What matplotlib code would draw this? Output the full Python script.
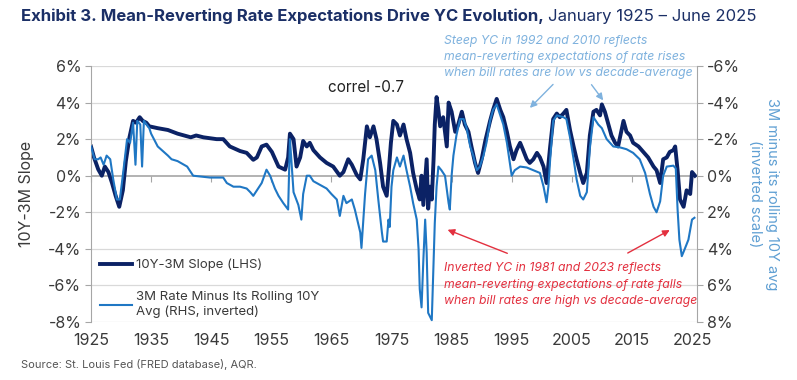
import matplotlib
matplotlib.use("Agg")
import matplotlib.pyplot as plt
import numpy as np

plt.rcParams['font.family'] = ['Inter', 'DejaVu Sans']

# ---- data ----
slope_years = [1925.0, 1925.5, 1926.2, 1926.8, 1927.3, 1927.9, 1928.5, 1929.1, 1929.7, 1930.3,
               1930.8, 1931.4, 1932.0, 1932.5, 1933.1, 1933.6, 1934.2, 1934.7, 1936.1, 1937.8,
               1939.4, 1940.5, 1941.6, 1942.5, 1943.7, 1945.9, 1947.0, 1948.1, 1949.8, 1950.9,
               1952.0, 1952.6, 1953.4, 1954.2, 1955.1, 1956.2, 1957.3, 1957.8, 1958.1, 1958.7,
               1959.2, 1959.8, 1960.3, 1960.9, 1961.4, 1962.0, 1963.1, 1964.2, 1965.3, 1966.4,
               1967.0, 1967.8, 1968.4, 1969.2, 1969.8, 1970.3, 1970.9, 1971.4, 1972.0, 1972.5,
               1973.1, 1973.6, 1974.2, 1974.6, 1974.9, 1975.3, 1975.9, 1976.4, 1977.0, 1977.5,
               1978.1, 1978.6, 1979.2, 1979.7, 1980.0, 1980.3, 1980.85, 1981.1, 1981.4, 1981.7,
               1982.0, 1982.2, 1982.5, 1982.8, 1983.1, 1983.6, 1984.2, 1984.5, 1985.0, 1985.6,
               1986.1, 1986.7, 1987.2, 1987.8, 1988.3, 1988.9, 1989.4, 1990.0, 1990.6, 1991.4,
               1991.9, 1992.5, 1993.1, 1993.6, 1994.2, 1994.7, 1995.3, 1995.8, 1996.4, 1996.9,
               1997.5, 1998.0, 1998.6, 1999.2, 1999.7, 2000.3, 2000.8, 2001.4, 2001.9, 2002.5,
               2003.0, 2003.6, 2004.1, 2004.7, 2005.3, 2005.8, 2006.4, 2006.9, 2007.5, 2008.0,
               2008.6, 2009.1, 2009.7, 2010.0, 2010.5, 2011.1, 2011.6, 2012.2, 2012.7, 2013.6,
               2014.1, 2014.7, 2015.2, 2016.1, 2016.9, 2017.7, 2018.6, 2019.1, 2019.7, 2020.2,
               2020.8, 2021.3, 2021.9, 2022.2, 2022.6, 2023.0, 2023.6, 2024.1, 2024.7, 2025.0,
               2025.5]
slope_vals = [1.6, 1.0, 0.35, 0.0, 0.5, 0.2, -0.4, -1.1, -1.7, -0.8,
              0.8, 2.1, 3.0, 2.9, 3.2, 3.0, 2.9, 2.7, 2.6, 2.5,
              2.3, 2.2, 2.1, 2.2, 2.1, 2.0, 2.0, 1.6, 1.35, 1.25,
              0.87, 1.0, 1.6, 1.7, 1.3, 0.5, 0.33, 1.0, 2.3, 2.0,
              0.5, 1.0, 1.9, 1.6, 1.8, 1.4, 1.0, 0.7, 0.5, 0.0,
              0.2, 0.9, 0.6, 0.05, -0.2, 0.9, 2.7, 2.1, 2.7, 2.0,
              0.7, -0.6, -1.1, 0.5, 1.8, 3.0, 2.8, 2.2, 2.8, 2.0,
              1.25, 0.15, -0.75, -1.3, 0.0, -1.6, 0.9, -1.8, -0.6, -1.3,
              0.9, 2.8, 4.3, 3.6, 2.7, 3.2, 1.6, 4.0, 3.5, 2.4,
              2.8, 3.5, 2.8, 2.4, 1.6, 0.7, 0.15, 0.9, 1.9, 3.0,
              3.6, 4.2, 3.6, 3.2, 2.4, 1.6, 0.9, 1.4, 1.8, 1.4,
              0.9, 0.7, 0.9, 1.25, 1.0, 0.5, -0.4, 1.6, 3.1, 3.4,
              3.2, 3.4, 3.6, 2.5, 1.6, 0.9, 0.15, -0.4, 0.15, 2.2,
              3.5, 3.6, 3.3, 3.9, 3.5, 2.8, 2.2, 1.8, 1.6, 3.0,
              2.4, 2.2, 1.8, 1.6, 1.3, 1.0, 0.5, 0.3, -0.4, 0.9,
              1.0, 1.3, 1.4, 1.6, 0.3, -1.3, -1.7, -0.8, -1.0, 0.2,
              0.0]

gap_years = [1925.0, 1925.6, 1926.2, 1926.6, 1927.1, 1927.6, 1928.2, 1928.7, 1929.3, 1929.8,
             1930.4, 1931.0, 1931.5, 1932.0, 1932.4, 1932.7, 1933.2, 1933.5, 1933.8, 1934.7,
             1935.0, 1936.1, 1937.8, 1938.4, 1939.4, 1941.0, 1942.0, 1944.8, 1947.0, 1947.6,
             1948.7, 1949.8, 1950.9, 1951.5, 1952.0, 1952.6, 1953.4, 1954.2, 1954.8, 1955.6,
             1956.2, 1957.0, 1957.8, 1958.1, 1958.7, 1959.5, 1960.0, 1960.3, 1960.9, 1961.4,
             1962.0, 1963.1, 1964.2, 1965.0, 1965.9, 1966.4, 1967.0, 1967.5, 1968.4, 1968.9,
             1969.8, 1970.0, 1970.6, 1971.1, 1971.7, 1972.3, 1972.8, 1973.4, 1973.6, 1974.2,
             1974.5, 1974.7, 1975.0, 1975.3, 1975.9, 1976.4, 1977.0, 1977.5, 1978.1, 1978.6,
             1979.2, 1979.5, 1979.7, 1980.0, 1980.3, 1980.6, 1980.85, 1981.1, 1981.4, 1981.7,
             1982.0, 1982.2, 1982.5, 1982.8, 1983.3, 1983.9, 1984.5, 1984.7, 1985.0, 1985.3,
             1985.8, 1986.4, 1987.0, 1987.5, 1988.1, 1988.6, 1989.2, 1989.7, 1990.3, 1990.8,
             1991.4, 1991.9, 1992.5, 1993.1, 1993.6, 1994.2, 1994.7, 1995.0, 1995.5, 1996.4,
             1997.5, 1998.6, 1999.7, 2000.3, 2000.8, 2001.1, 2001.4, 2001.9, 2002.5, 2003.6,
             2004.1, 2004.7, 2005.3, 2005.8, 2006.4, 2006.9, 2007.5, 2008.0, 2008.6, 2009.4,
             2010.0, 2010.8, 2011.9, 2013.0, 2014.1, 2015.2, 2016.3, 2017.2, 2018.0, 2018.6,
             2019.1, 2019.7, 2020.2, 2020.8, 2021.9, 2022.3, 2022.6, 2022.9, 2023.3, 2023.8,
             2024.4, 2025.0, 2025.4]
# 3M rate minus its rolling 10Y average (plotted on the inverted right axis)
gap_vals = [-1.6, -0.9, -0.9, -1.0, -0.6, -1.1, -0.9, 0.2, 1.3, 1.3,
            -0.3, -2.0, -1.8, -2.9, -0.6, -3.0, -2.8, -0.5, -3.0, -2.6,
            -2.3, -1.6, -1.1, -0.9, -0.8, -0.5, 0.0, 0.1, 0.1, 0.4,
            0.6, 0.6, 0.7, 0.9, 1.1, 0.8, 0.4, -0.33, 0.0, 0.7,
            1.1, 1.5, 1.85, -2.0, 0.9, 1.6, 2.4, 1.0, 0.0, 0.0,
            0.3, 0.5, 0.7, 1.0, 1.3, 2.2, 1.1, 1.5, 1.3, 1.85,
            3.1, 3.95, 1.0, -0.9, -1.1, -0.3, 1.3, 3.1, 3.6, 3.6,
            2.4, 2.8, 0.6, -0.3, -1.0, -0.5, -1.1, -0.3, 0.6, 1.5,
            2.4, 4.0, 6.2, 7.2, 4.6, 2.4, 4.2, 7.5, 7.7, 7.9,
            4.8, 2.6, 0.6, -0.5, -0.3, 0.0, 1.5, 1.85, 0.0, -1.1,
            -2.2, -3.1, -3.1, -2.6, -1.6, -1.1, -0.3, -0.5, -1.1, -1.8,
            -3.0, -3.6, -3.9, -3.3, -2.8, -1.8, -0.7, 0.0, -0.3, -0.5,
            -0.45, -0.3, -0.15, 0.6, 1.45, 0.6, -0.9, -3.0, -3.3, -3.2,
            -3.1, -2.1, -0.9, 0.2, 1.1, 1.3, 0.9, -1.5, -3.2, -2.8,
            -2.6, -2.0, -1.6, -1.55, -1.45, -1.25, -0.9, -0.15, 1.0, 1.7,
            2.0, 1.4, 0.0, -0.5, -0.55, -0.4, 1.85, 3.5, 4.4, 4.0,
            3.5, 2.4, 2.3]

left_ticks = [-8, -6, -4, -2, 0, 2, 4, 6]
right_ticks = [-6, -4, -2, 0, 2, 4, 6, 8]
year_ticks = [1925, 1935, 1945, 1955, 1965, 1975, 1985, 1995, 2005, 2015, 2025]

# ---- styling ----
NAVY = '#0b2265'
BLUE = '#1f77c4'
LIGHT = '#7fb2de'
RED = '#e3303f'
TXT = '#3a3a3a'
GRID = '#d9d9d9'

fig = plt.figure(figsize=(7.97, 3.8), dpi=100)
ax = fig.add_axes([91/797, 1-322/380, 606/797, 256/380])
ax2 = ax.twinx()

ax.plot(slope_years, slope_vals, color=NAVY, lw=2.8, label='10Y-3M Slope (LHS)', solid_joinstyle='round')
ax2.plot(gap_years, gap_vals, color=BLUE, lw=1.5, label='3M Rate Minus Its Rolling 10Y\nAvg (RHS, inverted)')

ax.set_xlim(1925, 2025.83)
ax.set_ylim(-8, 6)
ax2.set_ylim(8, -6)

ax.set_yticks(left_ticks)
ax.set_yticklabels([f'{t}%' for t in left_ticks])
ax2.set_yticks(right_ticks)
ax2.set_yticklabels([f'{t}%' for t in right_ticks])

for t in left_ticks:
    if t != 0:
        ax.axhline(t, color=GRID, lw=0.9, zorder=0)
ax.axhline(0, color='#a6a6a6', lw=1.2, zorder=1)

# x axis: decade ticks on the zero line, labels at the bottom
ax.spines['bottom'].set_position(('data', 0))
ax.set_xticks(year_ticks)
ax.tick_params(axis='x', direction='out', length=4, color='#a6a6a6', labelbottom=False)
sec = ax.secondary_xaxis('bottom')
sec.set_xticks(year_ticks)
sec.set_xticklabels([str(y) for y in year_ticks])
sec.tick_params(length=0, pad=8, labelsize=11.5, labelcolor=TXT)
sec.spines['bottom'].set_visible(False)

for a in (ax, ax2):
    a.spines['top'].set_visible(False)
    a.spines['bottom'].set_visible(False)
    a.spines['left'].set_color('#a6a6a6')
    a.spines['right'].set_color('#a6a6a6')
ax2.spines['left'].set_visible(False)
ax.spines['right'].set_visible(False)

ax.tick_params(axis='y', direction='out', length=4, color='#a6a6a6', labelsize=11.5, labelcolor=TXT, pad=3)
ax2.tick_params(axis='y', direction='out', length=4, color='#a6a6a6', labelsize=11.5, labelcolor=TXT, pad=3)

ax.set_ylabel('10Y-3M Slope', fontsize=11.5, color=TXT, labelpad=10)
ax2.set_ylabel('3M minus its rolling 10Y avg\n(inverted scale)', fontsize=10.5, color='#5f9fd3',
               rotation=270, labelpad=28, linespacing=1.25)

# legend
h1, l1 = ax.get_legend_handles_labels()
h2, l2 = ax2.get_legend_handles_labels()
leg = ax2.legend(h1 + h2, l1 + l2, loc='lower left', bbox_to_anchor=(0.0, -0.022), frameon=False,
                 fontsize=9.5, handlelength=2.4, handletextpad=0.3, labelspacing=1.5,
                 borderaxespad=0.3)
for t in leg.get_texts():
    t.set_color(TXT)
    t.set_linespacing(1.3)

ax.text(1964.5, 4.8, 'correl -0.7', fontsize=11, color='#222222', ha='left', va='center')

# annotations
ax.text(1983.7, 6.5, 'Steep YC in 1992 and 2010 reflects\nmean-reverting expectations of rate rises\nwhen bill rates are low vs decade-average',
        color=LIGHT, fontsize=8.8, style='italic', ha='left', va='center', linespacing=1.45, clip_on=False)
ax.annotate('', xy=(1997.7, 3.6), xytext=(2002.2, 5.1),
            arrowprops=dict(arrowstyle='-|>', color=LIGHT, lw=1.0, mutation_scale=10), annotation_clip=False)
ax.annotate('', xy=(2010.5, 4.0), xytext=(2008.0, 5.1),
            arrowprops=dict(arrowstyle='-|>', color=LIGHT, lw=1.0, mutation_scale=10), annotation_clip=False)

ax.text(1983.7, -5.95, 'Inverted YC in 1981 and 2023 reflects\nmean-reverting expectations of rate falls\nwhen bill rates are high vs decade-average',
        color=RED, fontsize=8.8, style='italic', ha='left', va='center', linespacing=1.45)
ax.annotate('', xy=(1983.9, -2.9), xytext=(1994.7, -4.3),
            arrowprops=dict(arrowstyle='-|>', color=RED, lw=1.0, mutation_scale=10))
ax.annotate('', xy=(2021.7, -2.9), xytext=(2013.9, -4.3),
            arrowprops=dict(arrowstyle='-|>', color=RED, lw=1.0, mutation_scale=10))

# title and source
fig.text(21/797, 1-16/380, 'Exhibit 3. Mean-Reverting Rate Expectations Drive YC Evolution,',
         fontsize=12, fontweight='bold', color='#1b2f66', ha='left', va='center')
fig.canvas.draw()
tb = fig.texts[0].get_window_extent()
fig.text((tb.x1 + 4) / fig.bbox.width, 1-16/380, 'January 1925 – June 2025',
         fontsize=12, color='#1b2f66', ha='left', va='center')
fig.text(21/797, 1-365/380, 'Source: St. Louis Fed (FRED database), AQR.', fontsize=8, color='#555555',
         ha='left', va='center')

fig.savefig('out.png', dpi=100)
